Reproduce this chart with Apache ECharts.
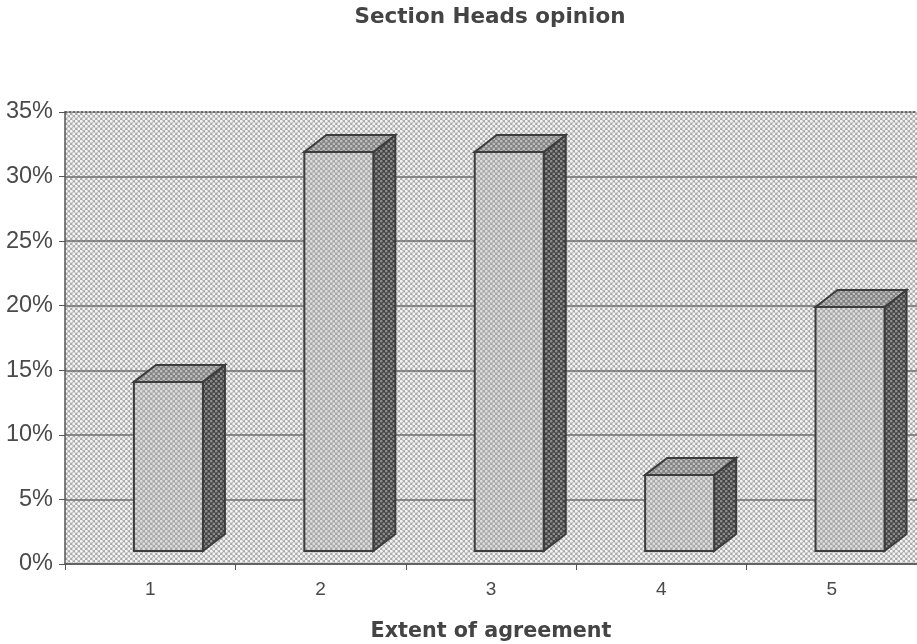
<!DOCTYPE html>
<html>
<head>
<meta charset="utf-8">
<style>html,body{margin:0;padding:0;background:#fff}#c{width:917px;height:644px}</style>
<script src="https://cdn.jsdelivr.net/npm/echarts@6/dist/echarts.min.js"></script>
</head>
<body>
<div id="c"></div>
<script>
var categories = ['1', '2', '3', '4', '5'];
var values = [14.1, 31.9, 31.9, 6.9, 19.9];
var barBase = 1;
var yTicks = [0, 5, 10, 15, 20, 25, 30, 35];

function dither(base, light, r) {
  var cv = document.createElement('canvas');
  cv.width = 5; cv.height = 5;
  var g = cv.getContext('2d');
  g.fillStyle = base; g.fillRect(0, 0, 5, 5);
  g.fillStyle = light;
  [[1.25, 1.25], [3.75, 3.75], [3.75, -1.25], [-1.25, 3.75], [6.25, 3.75], [3.75, 6.25]].forEach(function (p) {
    g.beginPath(); g.arc(p[0], p[1], r, 0, Math.PI * 2); g.fill();
  });
  return { image: cv, repeat: 'repeat' };
}
var bgFill = dither('#a8a8a8', '#f4f4f4', 1.45);
var frontFill = dither('#a6a6a6', '#dcdcdc', 1.4);
var topFill = dither('#808080', '#bdbdbd', 1.35);
var sideFill = dither('#434343', '#8c8c8c', 1.35);
var edge = '#3c3c3c';

var chart = echarts.init(document.getElementById('c'), null, { renderer: 'canvas' });
chart.setOption({
  animation: false,
  backgroundColor: '#ffffff',
  title: {
    text: 'Section Heads opinion',
    left: 485, top: 1, textAlign: 'center',
    textStyle: { fontFamily: 'DejaVu Sans', fontWeight: 'bold', fontSize: 21.5, color: '#444444' }
  },
  grid: {
    left: 65, right: 0, top: 112, bottom: 80, show: true, outerBoundsMode: 'none',
    backgroundColor: bgFill, borderWidth: 0
  },
  xAxis: [{
    type: 'category', data: categories, position: 'bottom',
    name: 'Extent of agreement', nameLocation: 'middle', nameGap: 57,
    nameTextStyle: { fontFamily: 'DejaVu Sans', fontWeight: 'bold', fontSize: 20.7, color: '#444444' },
    axisLine: { show: true, lineStyle: { color: '#555555', width: 1.5 } },
    axisTick: { show: true, alignWithLabel: false, length: 6, lineStyle: { color: '#555555' } },
    axisLabel: { fontFamily: 'Liberation Sans', fontSize: 19, color: '#4a4a4a', margin: 16 },
    splitLine: { show: false }
  }, {
    type: 'category', data: categories, position: 'top',
    axisLine: { show: true, lineStyle: { color: '#444444', width: 1.5, type: [2, 2] } },
    axisTick: { show: false }, axisLabel: { show: false }, splitLine: { show: false }
  }],
  yAxis: {
    type: 'value', min: yTicks[0], max: yTicks[yTicks.length - 1], interval: 5,
    axisLine: { show: true, onZero: false, lineStyle: { color: '#555555', width: 1.5 } },
    axisTick: { show: true, length: 6, lineStyle: { color: '#555555' } },
    axisLabel: { formatter: '{value}%', fontFamily: 'Liberation Sans', fontSize: 23.5, color: '#4a4a4a', margin: 12 },
    splitLine: { show: true, showMaxLine: false, lineStyle: { color: '#6e6e6e', width: 1.5 } }
  },
  series: [{
    type: 'custom',
    data: values.map(function (v, i) { return [i, v]; }),
    encode: { x: 0, y: 1 },
    clip: false,
    renderItem: function (params, api) {
      var top = api.coord([api.value(0), api.value(1)]);
      var bot = api.coord([api.value(0), barBase]);
      var band = api.size([1, 0])[0];
      var w = band * 0.405;
      var cx = top[0] + band * 0.107;
      var x0 = cx - w / 2, x1 = cx + w / 2;
      var dx = 22, dy = 17;
      function poly(points, fill) {
        return { type: 'polygon', shape: { points: points },
          style: { fill: fill, stroke: edge, lineWidth: 2, lineJoin: 'miter' } };
      }
      return { type: 'group', children: [
        poly([[x1, top[1]], [x1 + dx, top[1] - dy], [x1 + dx, bot[1] - dy], [x1, bot[1]]], sideFill),
        poly([[x0, top[1]], [x0 + dx, top[1] - dy], [x1 + dx, top[1] - dy], [x1, top[1]]], topFill),
        poly([[x0, top[1]], [x1, top[1]], [x1, bot[1]], [x0, bot[1]]], frontFill)
      ] };
    }
  }]
});
</script>
</body>
</html>
